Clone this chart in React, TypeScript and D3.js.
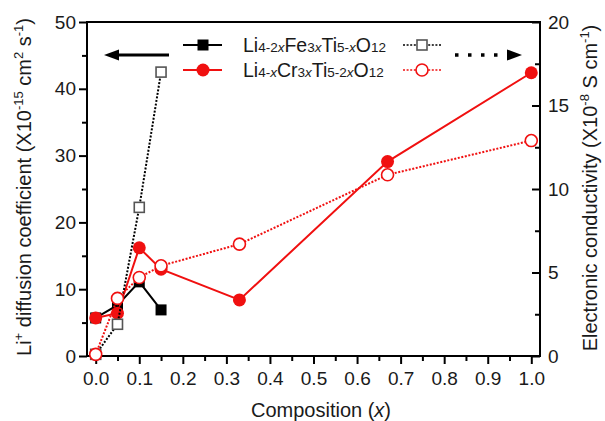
import React, { useRef, useEffect } from 'react';
import * as d3 from 'd3';

// composition x values
const xFe = [0, 0.05, 0.1, 0.15];
const xCr = [0, 0.05, 0.1, 0.15, 0.33, 0.67, 1.0];

// Li+ diffusion coefficient (x10^-15 cm2 s-1), left axis
const feDiffusion = [5.7, 7.6, 11.1, 6.9];
const crDiffusion = [5.7, 6.4, 16.2, 13.0, 8.4, 29.1, 42.4];

// electronic conductivity (x10^-8 S cm-1), right axis
const feConductivity = [0.1, 1.9, 8.9, 17.0];
const crConductivity = [0.1, 3.45, 4.7, 5.4, 6.7, 10.85, 12.9];

const xTickValues = [0, 0.1, 0.2, 0.3, 0.4, 0.5, 0.6, 0.7, 0.8, 0.9, 1.0];
const leftTickValues = [0, 10, 20, 30, 40, 50];
const rightTickValues = [0, 5, 10, 15, 20];

const RED = '#f01010';
const FONT = '"Liberation Sans", Arial, Helvetica, sans-serif';

const Chart = () => {
  const svgRef = useRef<SVGSVGElement>(null);

  useEffect(() => {
    document.body.style.margin = '0';
    const W = 605, H = 421;
    const m = { top: 22, right: 65, bottom: 65, left: 87 };

    d3.select(svgRef.current).selectAll('*').remove();
    const svg = d3.select(svgRef.current)
      .attr('width', W)
      .attr('height', H)
      .style('font-family', FONT);

    const x = d3.scaleLinear().domain([-0.02, 1.02]).range([m.left, W - m.right]);
    const yL = d3.scaleLinear().domain([0, 50]).range([H - m.bottom, m.top]);
    const yR = d3.scaleLinear().domain([0, 20]).range([H - m.bottom, m.top]);
    const bottom = H - m.bottom;

    const styleAxis = (g) => {
      g.select('.domain').remove();
      g.selectAll('line').attr('stroke', '#000').attr('stroke-width', 2);
      g.selectAll('text').attr('font-size', 19).attr('font-family', FONT).attr('fill', '#1a1a1a');
    };

    // minor ticks
    svg.append('g').attr('transform', `translate(0,${bottom})`)
      .call(d3.axisBottom(x).tickValues(d3.range(0.05, 1, 0.1)).tickSize(5).tickFormat(() => ''))
      .call(styleAxis);
    svg.append('g').attr('transform', `translate(${m.left},0)`)
      .call(d3.axisLeft(yL).tickValues([5, 15, 25, 35, 45]).tickSize(5).tickFormat(() => ''))
      .call(styleAxis);
    svg.append('g').attr('transform', `translate(${W - m.right},0)`)
      .call(d3.axisRight(yR).tickValues([2.5, 7.5, 12.5, 17.5]).tickSize(-5).tickFormat(() => ''))
      .call(styleAxis);

    // major ticks
    svg.append('g').attr('transform', `translate(0,${bottom})`)
      .call(d3.axisBottom(x).tickValues(xTickValues).tickSize(8).tickPadding(8).tickFormat(d3.format('.1f')))
      .call(styleAxis);
    svg.append('g').attr('transform', `translate(${m.left},0)`)
      .call(d3.axisLeft(yL).tickValues(leftTickValues).tickSize(8).tickPadding(3))
      .call(styleAxis);
    svg.append('g').attr('transform', `translate(${W - m.right},0)`)
      .call(d3.axisRight(yR).tickValues(rightTickValues).tickSize(-8).tickPadding(8))
      .call(styleAxis);

    // frame
    svg.append('rect')
      .attr('x', m.left).attr('y', m.top)
      .attr('width', W - m.left - m.right).attr('height', bottom - m.top)
      .attr('fill', 'none').attr('stroke', '#000').attr('stroke-width', 2);

    const lineL = d3.line<[number, number]>().x(d => x(d[0])).y(d => yL(d[1]));
    const lineR = d3.line<[number, number]>().x(d => x(d[0])).y(d => yR(d[1]));

    const series = [
      { xs: xFe, ys: feDiffusion, line: lineL, y: yL, color: '#000', dash: null, shape: 'square', filled: true },
      { xs: xCr, ys: crDiffusion, line: lineL, y: yL, color: RED, dash: null, shape: 'circle', filled: true },
      { xs: xFe, ys: feConductivity, line: lineR, y: yR, color: '#000', dash: '2,1.6', shape: 'square', filled: false },
      { xs: xCr, ys: crConductivity, line: lineR, y: yR, color: RED, dash: '2,1.6', shape: 'circle', filled: false },
    ];

    const drawMarker = (g, cx, cy, s) => {
      const fill = s.filled ? s.color : '#fff';
      const sw = s.filled ? 0 : 1.6;
      if (s.shape === 'circle') {
        g.append('circle').attr('cx', cx).attr('cy', cy).attr('r', s.filled ? 6.5 : 6)
          .attr('fill', fill).attr('stroke', s.color).attr('stroke-width', sw);
      } else {
        const a = s.filled ? 11 : 10;
        g.append('rect').attr('x', cx - a / 2).attr('y', cy - a / 2).attr('width', a).attr('height', a)
          .attr('fill', fill).attr('stroke', s.filled ? 'none' : '#555').attr('stroke-width', sw);
      }
    };

    series.forEach(s => {
      const pts = s.xs.map((v, i) => [v, s.ys[i]] as [number, number]);
      const g = svg.append('g');
      g.append('path').attr('d', s.line(pts)).attr('fill', 'none')
        .attr('stroke', s.color).attr('stroke-width', 2)
        .attr('stroke-dasharray', s.dash);
      pts.forEach(p => drawMarker(g, x(p[0]), s.y(p[1]), s));
    });

    // legend
    const leg = svg.append('g');
    const rows = [
      { s: series[0], o: series[2], y: 45, parts: [['Li', 0], ['4-2', 1], ['x', 2], ['Fe', 0], ['3', 1], ['x', 2], ['Ti', 0], ['5-', 1], ['x', 2], ['O', 0], ['12', 1]] },
      { s: series[1], o: series[3], y: 70, parts: [['Li', 0], ['4-', 1], ['x', 2], ['Cr', 0], ['3', 1], ['x', 2], ['Ti', 0], ['5-2', 1], ['x', 2], ['O', 0], ['12', 1]] },
    ];
    rows.forEach(r => {
      leg.append('line').attr('x1', 183).attr('x2', 222).attr('y1', r.y).attr('y2', r.y)
        .attr('stroke', r.s.color).attr('stroke-width', 2);
      drawMarker(leg, 203, r.y, r.s);
      leg.append('line').attr('x1', 403).attr('x2', 441).attr('y1', r.y).attr('y2', r.y)
        .attr('stroke', r.o.color).attr('stroke-width', 1.6).attr('stroke-dasharray', '2,1.6');
      drawMarker(leg, 422, r.y, r.o);
      const t = leg.append('text').attr('x', 243).attr('y', r.y + 7).attr('fill', '#1a1a1a').attr('font-size', 19);
      r.parts.forEach(([txt, k]) => {
        t.append('tspan').text(txt as string)
          .attr('font-size', k === 0 ? 19.5 : 13.5)
          .attr('font-style', k === 2 ? 'italic' : null);
      });
    });

    // arrows
    svg.append('line').attr('x1', 115).attr('x2', 169).attr('y1', 55).attr('y2', 55)
      .attr('stroke', '#000').attr('stroke-width', 3);
    svg.append('path').attr('d', 'M104,55 L119,49.5 L119,60.5 Z').attr('fill', '#000');
    svg.append('line').attr('x1', 455).attr('x2', 508).attr('y1', 55).attr('y2', 55)
      .attr('stroke', '#000').attr('stroke-width', 3.5).attr('stroke-dasharray', '3.5,9.5');
    svg.append('path').attr('d', 'M522,55 L507,49.5 L507,60.5 Z').attr('fill', '#000');

    // axis titles
    const leftTitle = svg.append('text')
      .attr('transform', `translate(31,187) rotate(-90)`)
      .attr('text-anchor', 'middle').attr('font-size', 20).attr('fill', '#1a1a1a');
    [['Li', 0], ['+', 1], [' diffusion coefficient (X10', 0], ['-15', 1], [' cm', 0], ['2', 1], [' s', 0], ['-1', 1], [')', 0]]
      .forEach(([txt, k]) => {
        leftTitle.append('tspan').text(txt as string)
          .attr('font-size', k ? 13 : 20)
          .attr('baseline-shift', k ? '65%' : null);
      });

    const rightTitle = svg.append('text')
      .attr('transform', `translate(597,188) rotate(-90)`)
      .attr('text-anchor', 'middle').attr('font-size', 20).attr('fill', '#1a1a1a');
    [['Electronic conductivity (X10', 0], ['-8', 1], [' S cm', 0], ['-1', 1], [')', 0]]
      .forEach(([txt, k]) => {
        rightTitle.append('tspan').text(txt as string)
          .attr('font-size', k ? 13 : 20)
          .attr('baseline-shift', k ? '65%' : null);
      });

    const xt = svg.append('text').attr('x', 321).attr('y', 417)
      .attr('text-anchor', 'middle').attr('font-size', 20).attr('fill', '#1a1a1a');
    xt.append('tspan').text('Composition (');
    xt.append('tspan').text('x').attr('font-style', 'italic');
    xt.append('tspan').text(')');
  }, []);

  return <svg ref={svgRef}></svg>;
};

export default function App() {
  return <Chart />;
}
